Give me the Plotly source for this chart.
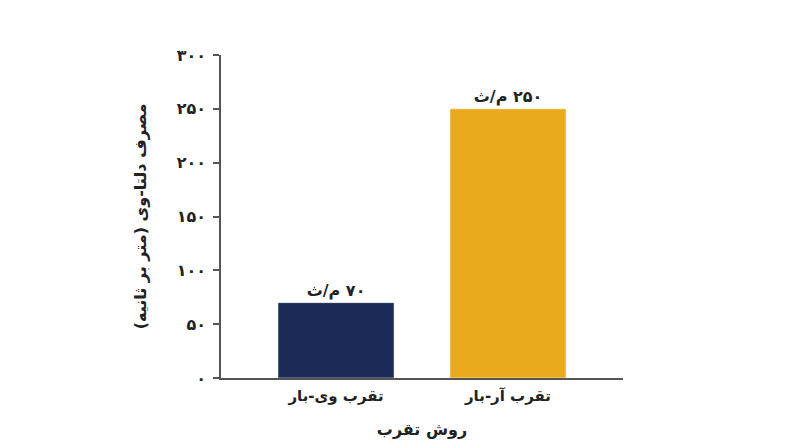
import plotly.graph_objects as go

RLM = "\u200f"

methods = ["تقرب وی-بار", "تقرب آر-بار"]
delta_v = [70, 250]
bar_labels = ["۷۰ م/ث", "۲۵۰ م/ث"]
bar_colors = ["#1b2a57", "#e9aa1e"]
tick_vals = [0, 50, 100, 150, 200, 250, 300]
tick_text = ["۰", "۵۰", "۱۰۰", "۱۵۰", "۲۰۰", "۲۵۰", "۳۰۰"]

font_family = "DejaVu Sans"
ink = "#222222"
axis_grey = "#555555"

fig = go.Figure()
fig.add_trace(go.Bar(
    x=methods,
    y=delta_v,
    text=[RLM + t for t in bar_labels],
    textposition="outside",
    textfont=dict(family=font_family, size=16, color=ink, weight="bold"),
    marker_color=bar_colors,
    width=0.675,
    cliponaxis=False,
))

fig.update_layout(
    width=800,
    height=447,
    template="plotly_white",
    plot_bgcolor="white",
    paper_bgcolor="white",
    margin=dict(l=213, r=185, t=47, b=77),
    showlegend=False,
    font=dict(family=font_family, color=ink),
)
fig.update_xaxes(
    range=[-0.669, 1.669],
    showline=True,
    linecolor=axis_grey,
    linewidth=1.5,
    showgrid=False,
    ticks="",
    ticklabelstandoff=3,
    tickfont=dict(family=font_family, size=15, color=ink, weight="bold"),
    title=dict(text=RLM + "روش تقرب" + RLM,
               font=dict(family=font_family, size=16, color=ink, weight="bold"),
               standoff=20),
)
fig.update_yaxes(
    range=[0, 300],
    tickvals=tick_vals,
    ticktext=tick_text,
    showline=True,
    linecolor=axis_grey,
    linewidth=1.5,
    showgrid=False,
    zeroline=False,
    ticks="outside",
    ticklen=6,
    tickcolor=axis_grey,
    tickwidth=1.5,
    ticklabelstandoff=4,
    tickfont=dict(family=font_family, size=16, color=ink, weight="bold"),
    title=dict(text=RLM + "مصرف دلتا-وی (متر بر ثانیه)" + RLM,
               font=dict(family=font_family, size=16, color=ink, weight="bold"),
               standoff=26),
)

fig.write_html("out.html")
